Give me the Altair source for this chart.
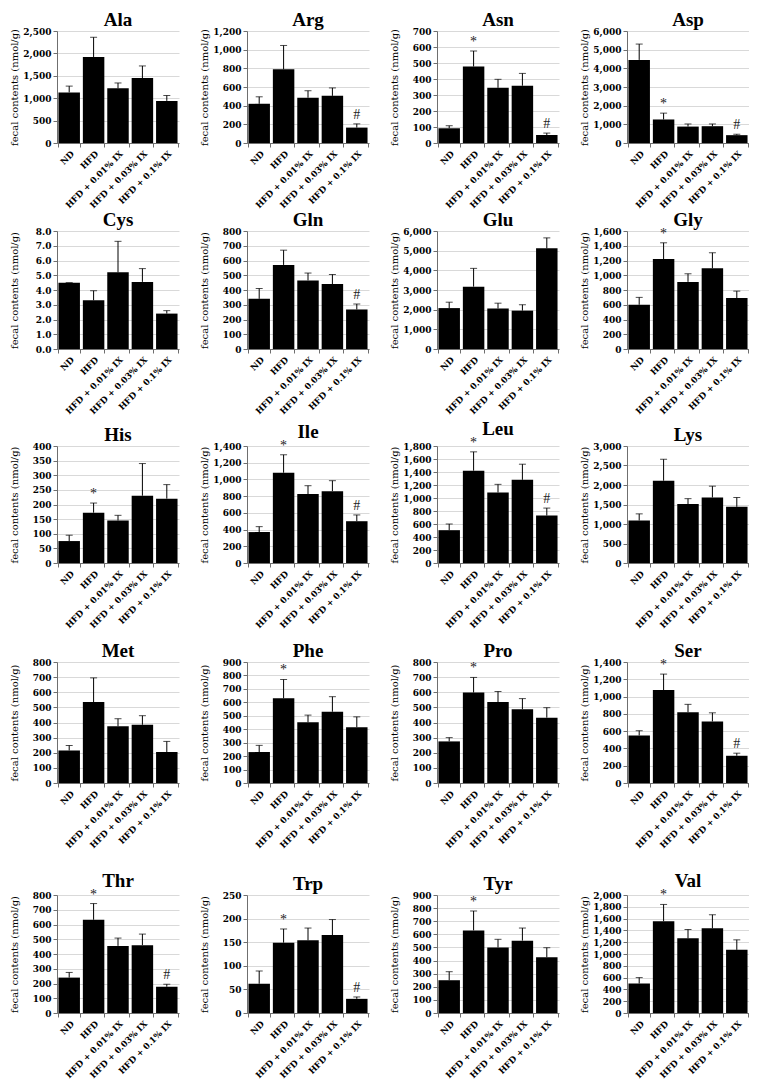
import altair as alt
import pandas as pd

groups = ["ND", "HFD", "HFD + 0.01% IX", "HFD + 0.03% IX", "HFD + 0.1% IX"]
amino = ["Ala", "Arg", "Asn", "Asp", "Cys", "Gln", "Glu", "Gly", "His", "Ile",
         "Leu", "Lys", "Met", "Phe", "Pro", "Ser", "Thr", "Trp", "Tyr", "Val"]

mean_nd = [1130, 420, 92, 4450, 4.5, 340, 2080, 600, 75, 370, 505, 1090, 215, 230, 275, 550, 240, 62, 250, 500]
mean_hfd = [1920, 790, 478, 1260, 3.3, 570, 3170, 1220, 172, 1080, 1420, 2110, 535, 630, 598, 1075, 632, 149, 630, 1555]
mean_ix001 = [1220, 485, 345, 880, 5.2, 465, 2060, 910, 145, 825, 1085, 1510, 375, 452, 535, 820, 455, 154, 500, 1265]
mean_ix003 = [1450, 505, 358, 900, 4.55, 440, 1950, 1095, 230, 860, 1280, 1680, 385, 530, 488, 712, 460, 165, 552, 1435]
mean_ix01 = [940, 165, 50, 420, 2.4, 268, 5120, 690, 220, 500, 730, 1440, 205, 415, 432, 315, 178, 30, 425, 1070]

err_nd = [140, 75, 16, 850, 0, 70, 300, 100, 20, 65, 95, 170, 33, 50, 25, 55, 35, 27, 65, 100]
err_hfd = [440, 255, 97, 340, 0.65, 100, 930, 220, 33, 215, 290, 550, 160, 140, 100, 185, 110, 29, 148, 285]
err_ix001 = [120, 75, 53, 140, 2.1, 50, 270, 110, 18, 100, 125, 140, 50, 53, 70, 90, 53, 26, 62, 150]
err_ix003 = [270, 85, 77, 120, 0.9, 65, 300, 210, 110, 125, 240, 290, 60, 112, 70, 100, 75, 33, 96, 230]
err_ix01 = [120, 40, 12, 50, 0.2, 37, 530, 95, 48, 75, 115, 240, 70, 77, 66, 30, 17, 4, 73, 170]

star_hfd = ["Asn", "Asp", "Gly", "His", "Ile", "Leu", "Phe", "Pro", "Ser", "Thr", "Trp", "Tyr", "Val"]
hash_ix01 = ["Arg", "Asn", "Asp", "Gln", "Ile", "Leu", "Ser", "Thr", "Trp"]

y_max = [2500, 1200, 700, 6000, 8, 800, 6000, 1600, 400, 1400, 1800, 3000, 800, 900, 800, 1400, 800, 250, 900, 2000]
y_step = [500, 200, 100, 1000, 1, 100, 1000, 200, 50, 200, 200, 500, 100, 100, 100, 200, 100, 50, 100, 200]

TFONT = "Liberation Serif"
AFONT = "DejaVu Serif"
row_heights = [112, 118, 117, 121, 118]
row_xext = [60, 70, 79, 88, 62]


def panel(i, h, xext):
    name = amino[i]
    means = [mean_nd[i], mean_hfd[i], mean_ix001[i], mean_ix003[i], mean_ix01[i]]
    errs = [err_nd[i], err_hfd[i], err_ix001[i], err_ix003[i], err_ix01[i]]
    sig = ["", "*" if name in star_hfd else "", "", "", "#" if name in hash_ix01 else ""]
    df = pd.DataFrame({
        "group": groups,
        "mean": means,
        "top": [m + e for m, e in zip(means, errs)],
        "sig": sig,
    })
    n = int(round(y_max[i] / y_step[i]))
    ticks = [k * y_step[i] for k in range(n + 1)]
    fmt = ".1f" if y_max[i] < 10 else ",.0f"
    xenc = alt.X("group:N", sort=groups,
                 scale=alt.Scale(paddingInner=0.12, paddingOuter=0.06),
                 axis=alt.Axis(title=None, labelAngle=-45, tickBand="extent",
                               minExtent=xext))
    yenc = alt.Y("mean:Q", scale=alt.Scale(domain=[0, y_max[i]], nice=False),
                 axis=alt.Axis(values=ticks, tickCount=len(ticks), format=fmt,
                               labelOverlap=False,
                               title="fecal contents (nmol/g)"))
    base = alt.Chart(df)
    bars = base.mark_bar(color="black").encode(x=xenc, y=yenc)
    rule = base.mark_rule(color="black", strokeWidth=1).encode(
        x=alt.X("group:N", sort=groups), y="mean:Q", y2="top:Q")
    cap = base.mark_tick(color="black", thickness=1, size=7).encode(
        x=alt.X("group:N", sort=groups), y="top:Q")
    txt = base.transform_filter("datum.sig != ''").mark_text(
        font=TFONT, fontSize=14, baseline="bottom", dy=-2, color="#222222"
    ).encode(x=alt.X("group:N", sort=groups), y="top:Q", text="sig:N")
    return alt.layer(bars, rule, cap, txt).properties(
        width=122, height=h,
        title=alt.TitleParams(text=name, fontSize=19, font=TFONT,
                              fontWeight="bold", anchor="middle", frame="group",
                              offset=-3))


rows = []
for r in range(5):
    rows.append(alt.hconcat(*[panel(r * 4 + c, row_heights[r], row_xext[r]) for c in range(4)],
                            spacing=19))

chart = alt.vconcat(*rows, spacing=0).properties(
    padding={"left": 0, "top": 3, "right": 0, "bottom": 0}
).configure_axis(
    labelFont=AFONT, labelFontWeight="bold", labelFontSize=9, labelColor="black",
    titleFont=AFONT, titleFontWeight="normal", titleFontSize=10, titleColor="black",
    domainColor="#6f6f6f", tickColor="#6f6f6f", tickSize=4, gridColor="#d9d9d9",
).configure_axisX(
    grid=False, labelFontSize=8.5, labelPadding=2,
).configure_axisY(
    grid=True, minExtent=35, maxExtent=35, titlePadding=3, labelPadding=2,
).configure_view(stroke=None)

chart.save("out.html", embed_options={"renderer": "svg", "actions": False})
